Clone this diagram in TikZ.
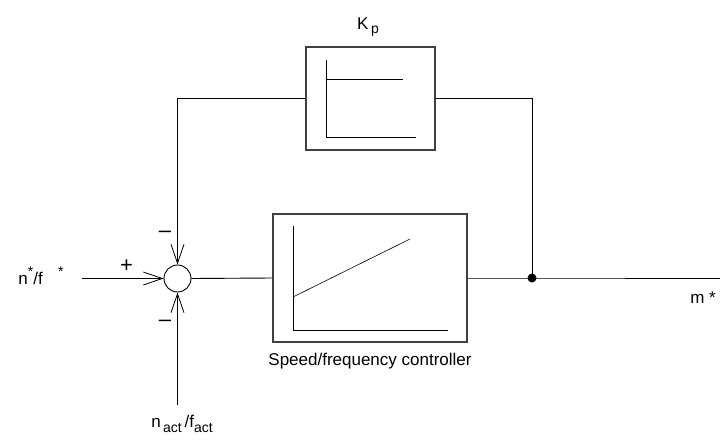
\documentclass[tikz,border=0pt]{standalone}
\usepackage{fontspec}
\setmainfont{Liberation Sans}
\usetikzlibrary{arrows.meta}
\begin{document}
\begin{tikzpicture}[x=1pt,y=-1pt,
  line/.style={line width=0.9pt,black},
  boxstyle/.style={draw=black!75,line width=1.1pt,rectangle,inner sep=0pt},
  arr/.style={line,-{Straight Barb[length=19pt,width=13pt,line width=0.8pt]}},
  lbl/.style={font=\fontsize{17}{19}\selectfont,inner sep=0pt},
  sign/.style={font=\fontsize{22}{23}\selectfont,inner sep=0pt}]
\useasboundingbox (0,0) rectangle (720,439);
% nodes
\node[draw,line width=0.9pt,circle,minimum size=27pt,inner sep=0pt] (sum) at (177.5,278.5) {};
\node[boxstyle,minimum width=129pt,minimum height=103pt] (kp) at (370.5,98.5) {};
\node[boxstyle,minimum width=194pt,minimum height=128pt] (pi) at (370,278) {};
\node[circle,fill=black,minimum size=9pt,inner sep=0pt] (dot) at (532,278) {};
\coordinate (in) at (82,278.5);
\coordinate (out) at (720,278);
\coordinate (act) at (177.5,405);
% connectors
\draw[arr] (in) -- (sum.west);
\draw[arr] (kp.west) -| (sum.north);
\draw[arr] (act) -- (sum.south);
\draw[line] (sum.east) -- (pi.west);
\draw[line] (pi.east) -- (dot.center) -- (out);
\draw[line] (kp.east) -| (dot.center);
% Kp inner characteristic
\draw[line width=0.8pt] (326,60) -- (326,137) -- (416,137);
\draw[line width=0.8pt] (326,79) -- (403,79);
% PI inner characteristic
\draw[line width=0.8pt] (293,226) -- (293,330) -- (448,330);
\draw[line width=0.6pt] (293,297) -- (410,239);
% labels
\node[lbl] (kplbl) at (368,27) {K\,\raisebox{-0.45ex}{\fontsize{14}{15}\selectfont p}};
\node[lbl] (ref) at (41,276) {n\raisebox{0.9ex}{\fontsize{14}{15}\selectfont *}/f\hspace{0.9em}\raisebox{0.9ex}{\fontsize{14}{15}\selectfont *}};
\node[lbl] (actlbl) at (182,424) {n\raisebox{-0.55ex}{\fontsize{14}{15}\selectfont\,act}\,/f\raisebox{-0.55ex}{\fontsize{14}{15}\selectfont act}};
\node[lbl] (mlbl) at (703,298) {m *};
\node[lbl] (cap) at (370,361) {Speed/frequency controller};
\node[sign] (plus) at (126.5,266) {+};
\node[sign] (m1) at (165,234) {–};
\node[sign] (m2) at (165,323) {–};
\end{tikzpicture}
\end{document}
